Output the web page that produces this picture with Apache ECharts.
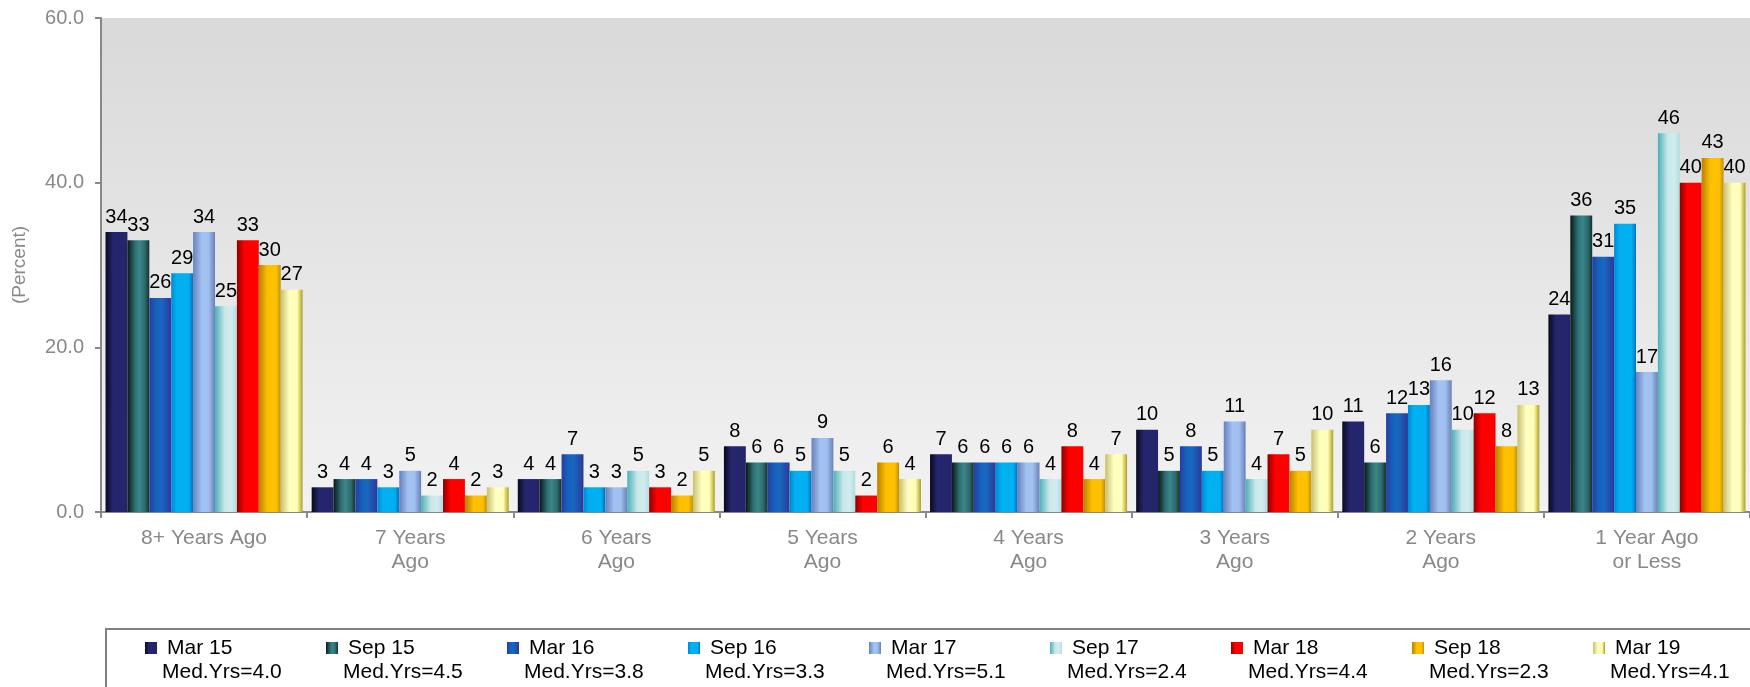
<!DOCTYPE html>
<html>
<head>
<meta charset="utf-8">
<script src="https://cdn.jsdelivr.net/npm/echarts@6/dist/echarts.min.js"></script>
<style>
  html, body { margin: 0; padding: 0; background: #ffffff; }
  #chart { width: 1750px; height: 687px; }
</style>
</head>
<body>
<div id="chart"></div>
<script>
// Time since last survey response, by wave
const categories = ['8+ Years Ago', '7 Years\nAgo', '6 Years\nAgo', '5 Years\nAgo', '4 Years\nAgo', '3 Years\nAgo', '2 Years\nAgo', '1 Year Ago\nor Less'];
const waves = ['Mar 15', 'Sep 15', 'Mar 16', 'Sep 16', 'Mar 17', 'Sep 17', 'Mar 18', 'Sep 18', 'Mar 19'];
const medianYears = ['4.0', '4.5', '3.8', '3.3', '5.1', '2.4', '4.4', '2.3', '4.1'];

const mar15 = [34, 3, 4, 8, 7, 10, 11, 24];
const sep15 = [33, 4, 4, 6, 6, 5, 6, 36];
const mar16 = [26, 4, 7, 6, 6, 8, 12, 31];
const sep16 = [29, 3, 3, 5, 6, 5, 13, 35];
const mar17 = [34, 5, 3, 9, 6, 11, 16, 17];
const sep17 = [25, 2, 5, 5, 4, 4, 10, 46];
const mar18 = [33, 4, 3, 2, 8, 7, 12, 40];
const sep18 = [30, 2, 2, 6, 4, 5, 8, 43];
const mar19 = [27, 3, 5, 4, 7, 10, 13, 40];

const yTicks = { min: 0, max: 60, interval: 20 };

const seriesValues = [mar15, sep15, mar16, sep16, mar17, sep17, mar18, sep18, mar19];

const FONT = 'Liberation Sans, Arial, sans-serif';

// Cylinder-like horizontal shading for each wave
function shade(stops) {
  return new echarts.graphic.LinearGradient(0, 0, 1, 0,
    stops.map(s => ({ offset: s[0], color: s[1] })));
}
const fills = [
  shade([[0, '#090a1c'], [0.35, '#262670'], [1, '#24246a']]),
  shade([[0, '#0c1818'], [0.35, '#2e7074'], [0.55, '#3a868a'], [0.8, '#2c6a6c'], [1, '#143030']]),
  shade([[0, '#2a3c9e'], [0.3, '#1462be'], [0.55, '#1868c0'], [1, '#2c389a']]),
  shade([[0, '#0088d4'], [0.25, '#00b0f0'], [0.8, '#00b0f0'], [1, '#0070c0']]),
  shade([[0, '#6880bc'], [0.4, '#a2c2f2'], [0.7, '#a0c0f0'], [1, '#6a80b8']]),
  shade([[0, '#4cb0b8'], [0.45, '#c8e8ea'], [0.75, '#d2ecee'], [1, '#b0dde0']]),
  shade([[0, '#8c0000'], [0.35, '#ff0000'], [1, '#ff0000']]),
  shade([[0, '#b88000'], [0.4, '#ffc000'], [0.8, '#ffc000'], [1, '#c09000']]),
  shade([[0, '#c8c070'], [0.4, '#ffffc0'], [0.75, '#ffffb8'], [1, '#b0a020']])
];

const series = waves.map((name, i) => ({
  name: name,
  type: 'bar',
  data: seriesValues[i],
  barGap: '0%',
  barCategoryGap: '4.4%',
  itemStyle: { color: fills[i] },
  label: {
    show: true,
    position: 'top',
    distance: 5,
    color: '#000000',
    fontSize: 20,
    fontFamily: FONT
  }
}));

const chart = echarts.init(document.getElementById('chart'), null, { renderer: 'canvas' });

chart.setOption({
  animation: false,
  backgroundColor: '#ffffff',
  textStyle: { fontFamily: FONT },
  grid: {
    left: 101,
    top: 18,
    width: 1657,
    height: 494,
    show: true,
    borderWidth: 0,
    backgroundColor: new echarts.graphic.LinearGradient(0, 0, 0, 1, [
      { offset: 0, color: '#d9d9d9' },
      { offset: 1, color: '#f2f2f2' }
    ])
  },
  graphic: [{
    type: 'rect',
    shape: { x: 106, y: 629, width: 1700, height: 80 },
    style: { fill: 'none', stroke: '#808080', lineWidth: 2 },
    silent: true
  }],
  legend: {
    left: 145,
    top: 612,
    width: 1700,
    itemWidth: 12,
    itemHeight: 12,
    itemGap: 10,
    icon: 'rect',
    padding: 0,
    data: waves,
    formatter: function (name) {
      const idx = waves.indexOf(name);
      return '{a|' + name + '}\n{b|Med.Yrs=' + medianYears[idx] + '}';
    },
    textStyle: {
      width: 154,
      padding: [24, 0, 0, 0],
      color: '#000000',
      fontSize: 21,
      lineHeight: 24,
      rich: {
        a: { fontSize: 21, lineHeight: 24, color: '#000', padding: [0, 0, 0, 5] },
        b: { fontSize: 21, lineHeight: 24, color: '#000' }
      }
    }
  },
  xAxis: {
    type: 'category',
    data: categories,
    axisLine: { lineStyle: { color: '#888888', width: 2 } },
    axisTick: { show: true, length: 6, lineStyle: { color: '#888888', width: 2 } },
    axisLabel: {
      color: '#888888',
      fontSize: 21,
      lineHeight: 24,
      margin: 14,
      interval: 0
    }
  },
  yAxis: {
    type: 'value',
    min: yTicks.min,
    max: yTicks.max,
    interval: yTicks.interval,
    name: '(Percent)',
    nameLocation: 'middle',
    nameGap: 72,
    nameRotate: 90,
    nameTextStyle: { color: '#888888', fontSize: 19 },
    axisLine: { show: true, lineStyle: { color: '#888888', width: 2 } },
    axisTick: { show: true, length: 6, lineStyle: { color: '#888888', width: 2 } },
    splitLine: { show: false },
    axisLabel: {
      color: '#888888',
      fontSize: 20,
      margin: 17,
      formatter: v => v.toFixed(1)
    }
  },
  series: series
});
</script>
</body>
</html>
